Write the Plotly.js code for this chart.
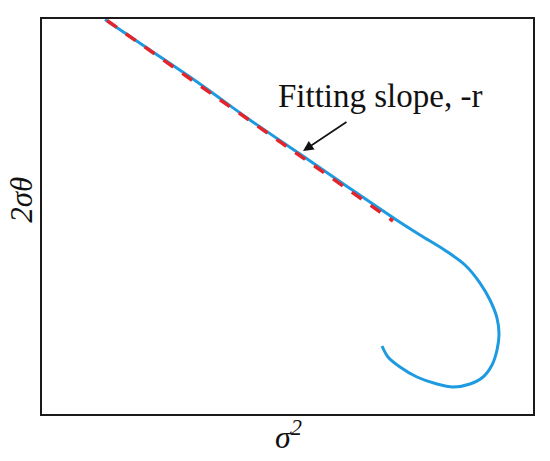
<!DOCTYPE html>
<html>
<head>
<meta charset="utf-8">
<script src="https://cdn.plot.ly/plotly-3.0.1.min.js"></script>
<style>html,body{margin:0;padding:0;background:#fff;}#chart{width:550px;height:461px;}</style>
</head>
<body>
<div id="chart"></div>
<script>
// Measured curve (sigma^2 vs 2*sigma*theta), arbitrary units 0-100
const curveX = [12.83, 22.0, 32.18, 42.36, 52.55, 62.73, 71.89, 76.99, 82.28, 86.15, 89.21, 91.24, 92.67, 93.08, 92.67, 91.65, 89.82, 87.17, 83.71, 80.45, 76.37, 72.91, 70.47, 69.25];
const curveY = [99.87, 92.15, 83.54, 74.43, 65.82, 57.09, 49.37, 45.32, 41.27, 37.72, 33.16, 28.86, 24.30, 20.25, 16.20, 12.41, 9.37, 7.59, 6.84, 7.59, 9.37, 11.90, 14.43, 17.22];
// Linear fit (dashed red)
const fitX = [13.24, 71.49];
const fitY = [99.62, 48.86];
// Annotation arrow (tail -> head)
const arrowTail = [62.32, 74.18];
const arrowHead = [53.16, 66.58];
const labelText = 'Fitting slope, -r';
const xTitle = '<i>σ<sup>2</sup></i>';
const yTitle = '<i>2σθ</i>';

const serif = 'Liberation Serif, Times New Roman, serif';

const data = [
  {x: curveX, y: curveY, mode: 'lines', type: 'scatter',
   line: {color: '#1e9be0', width: 3, shape: 'spline', smoothing: 0.9}, hoverinfo: 'skip'},
  {x: fitX, y: fitY, mode: 'lines', type: 'scatter',
   line: {color: '#e3252b', width: 3.5, dash: '12px,11px'}, hoverinfo: 'skip'}
];

const axisBase = {range: [0, 100], showline: true, mirror: true, linewidth: 2, linecolor: '#1a1a1a',
  showgrid: false, zeroline: false, ticks: '', showticklabels: false, fixedrange: true};

const layout = {
  width: 550, height: 461,
  margin: {l: 42, r: 17, t: 19, b: 47},
  paper_bgcolor: '#ffffff', plot_bgcolor: '#ffffff',
  showlegend: false,
  xaxis: Object.assign({}, axisBase),
  yaxis: Object.assign({}, axisBase),
  annotations: [
    {x: arrowHead[0], y: arrowHead[1], ax: arrowTail[0], ay: arrowTail[1], xref: 'x', yref: 'y', axref: 'x', ayref: 'y',
     text: '', showarrow: true, arrowhead: 2, arrowsize: 1.3, arrowwidth: 1.6, arrowcolor: '#111'},
    {x: 68.74, y: 80.5, xref: 'x', yref: 'y', text: labelText, showarrow: false,
     xanchor: 'center', yanchor: 'middle', font: {family: serif, size: 33, color: '#111'}},
    {x: 0.503, y: -0.052, xref: 'paper', yref: 'paper', text: xTitle, showarrow: false,
     xanchor: 'center', yanchor: 'middle', font: {family: serif, size: 32, color: '#111'}},
    {x: -0.041, y: 0.542, xref: 'paper', yref: 'paper', text: yTitle, showarrow: false, textangle: -90,
     xanchor: 'center', yanchor: 'middle', font: {family: serif, size: 31, color: '#111'}}
  ]
};

Plotly.newPlot('chart', data, layout, {staticPlot: true, displayModeBar: false});
</script>
</body>
</html>
